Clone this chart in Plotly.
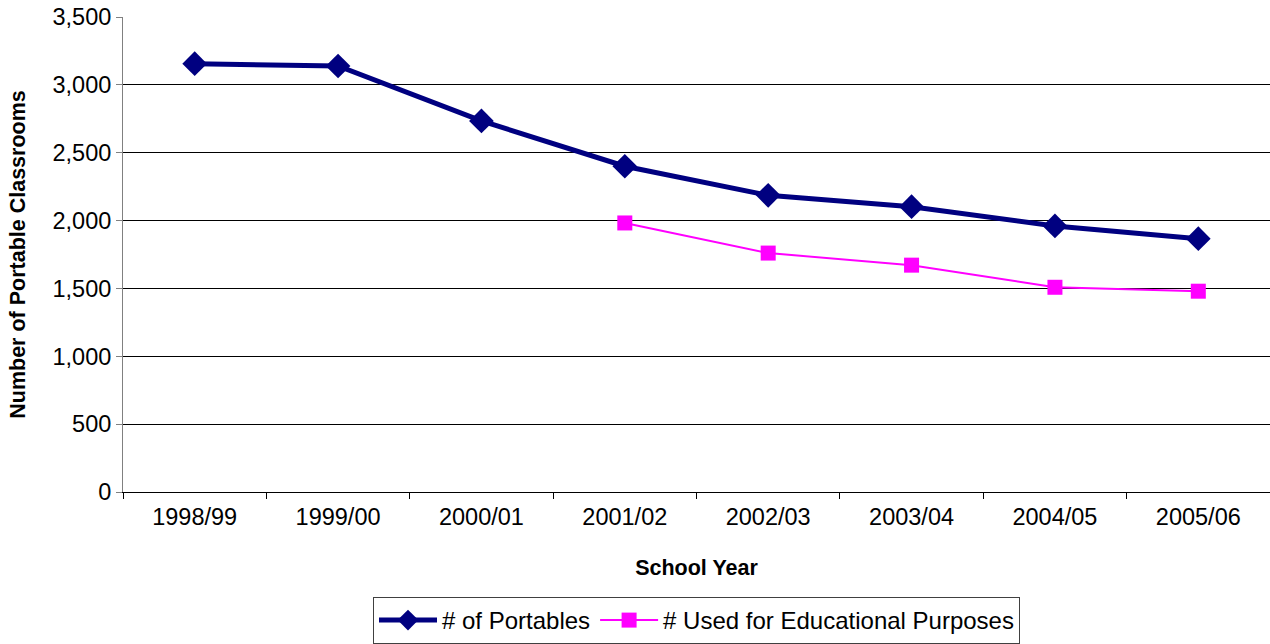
import plotly.graph_objects as go

years = ["1998/99", "1999/00", "2000/01", "2001/02", "2002/03", "2003/04", "2004/05", "2005/06"]
portables = [3157, 3140, 2735, 2401, 2187, 2103, 1961, 1867]
educational = [None, None, None, 1983, 1761, 1672, 1509, 1480]
y_ticks = [0, 500, 1000, 1500, 2000, 2500, 3000, 3500]

fig = go.Figure()
fig.add_trace(go.Scatter(
    x=years, y=portables, name="# of Portables", mode="lines+markers",
    line=dict(color="#000080", width=5),
    marker=dict(symbol="diamond", size=19, color="#000080"),
))
fig.add_trace(go.Scatter(
    x=years, y=educational, name="# Used for Educational Purposes", mode="lines+markers",
    line=dict(color="#FF00FF", width=2),
    marker=dict(symbol="square", size=15, color="#FF00FF"),
))

font_family = "Liberation Sans, Arial, sans-serif"
fig.update_layout(
    width=1270, height=644,
    margin=dict(l=123, r=0, t=17, b=152),
    paper_bgcolor="white", plot_bgcolor="white",
    font=dict(family=font_family, size=23.5, color="black"),
    showlegend=True,
    legend=dict(
        orientation="h", x=0.5, xanchor="center", y=0.0, yanchor="bottom",
        xref="paper", yref="container",
        bordercolor="#404040", borderwidth=1, font=dict(size=24),
        itemwidth=58, tracegroupgap=0, itemsizing="trace",
    ),
    xaxis=dict(
        type="category", range=[-0.5, 7.5],
        showline=True, linecolor="black", linewidth=1,
        ticks="outside", tickson="boundaries", ticklen=6, tickcolor="black",
        ticklabelstandoff=4,
        showgrid=False, tickfont=dict(size=23.5),
        title=dict(text="<b>School Year</b>", font=dict(size=21.5), standoff=30),
    ),
    yaxis=dict(
        range=[0, 3501], tickvals=y_ticks, tickformat=",d",
        showline=True, linecolor="#808080", linewidth=1,
        ticks="outside", ticklen=6, tickcolor="#808080",
        showgrid=True, gridcolor="black", gridwidth=1,
        zeroline=False, tickfont=dict(size=23.5),
        title=dict(text="<b>Number of Portable Classrooms</b>", font=dict(size=21.5), standoff=20),
    ),
)

fig.write_html(
    "out.html",
    config={"displayModeBar": False},
    post_script="document.body.style.margin='0';document.body.style.overflow='hidden';",
)
